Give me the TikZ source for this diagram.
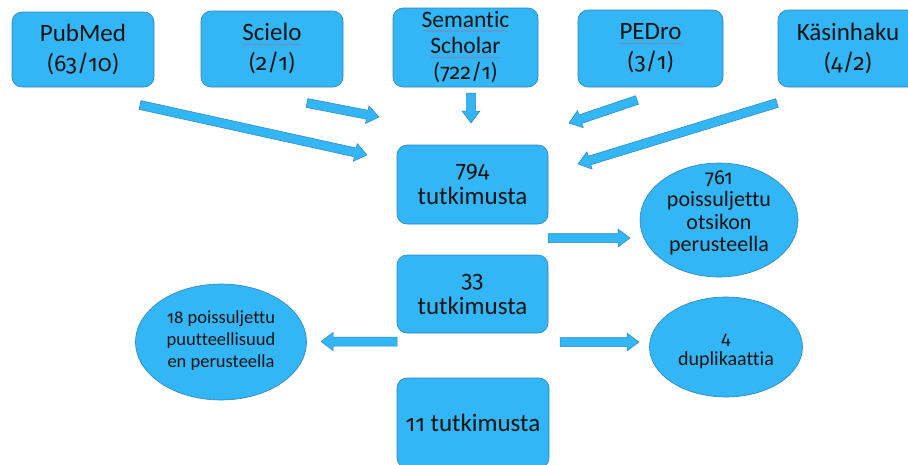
\documentclass[tikz,border=0pt]{standalone}
\usepackage{fontspec}
\setmainfont{Carlito}[Ligatures=NoCommon]
\newfontfamily\osf{Fira Sans}[Numbers=OldStyle,Scale=0.92]
\newcommand\dg[1]{{\osf #1}}
\usetikzlibrary{calc,shapes.geometric,decorations.pathmorphing}
\definecolor{boxblue}{RGB}{51,182,246}
\definecolor{edgeblue}{RGB}{44,132,190}
\definecolor{ink}{RGB}{20,20,20}
\definecolor{spellred}{RGB}{205,90,110}
\tikzset{
  box/.style={draw=edgeblue, fill=boxblue, rounded corners=10pt, align=center,
    inner sep=0pt, line width=0.6pt, text=ink},
  ell/.style={ellipse, draw=edgeblue, fill=boxblue, inner sep=0pt, line width=0.6pt},
  elltext/.style={align=center, text=ink, inner sep=0pt},
  arr/.style={draw=edgeblue, fill=boxblue, line width=0.5pt, line join=miter},
  big/.style={font={\fontsize{25pt}{30pt}\selectfont}},
  mid/.style={font={\fontsize{23.5pt}{26pt}\selectfont}},
  res/.style={font={\fontsize{25pt}{27pt}\selectfont}},
  small/.style={font={\fontsize{18.5pt}{22pt}\selectfont}},
  squiggle/.style={draw=spellred, line width=0.35pt, draw opacity=0.7,
    decorate, decoration={snake, segment length=2.4pt, amplitude=0.55pt}},
}
\newcommand\blockarr[3]{%
  \coordinate (#1t) at #2;
  \coordinate (#1p) at #3;
  \coordinate (#1b) at ($(#1p)!12pt!(#1t)$);
  \draw[arr] ($(#1t)!4.5pt!90:(#1p)$) -- ($(#1b)!4.5pt!90:(#1p)$) -- ($(#1b)!9pt!90:(#1p)$) -- (#1p) -- ($(#1b)!9pt!-90:(#1p)$) -- ($(#1b)!4.5pt!-90:(#1p)$) -- ($(#1t)!4.5pt!-90:(#1p)$) -- cycle;}
\begin{document}
\begin{tikzpicture}[x=1pt,y=-1pt]
\useasboundingbox (0,0) rectangle (908,464);
\clip (0,0) rectangle (908,464);
% sources
\node[box,big,minimum width=142pt,minimum height=75pt] (pub) at (83,49.5) {PubMed\\(\dg{63/10})};
\node[box,big,minimum width=142pt,minimum height=76pt] (sci) at (272,49) {Scielo\\(\dg{2/1})};
\node[box,mid,minimum width=145pt,minimum height=79pt] (sem) at (465.5,47.5) {Semantic\\Scholar\\(\dg{722/1})};
\node[box,big,minimum width=145pt,minimum height=77pt] (ped) at (650.5,48.5) {PEDro\\(\dg{3/1})};
\node[box,big,minimum width=140pt,minimum height=77pt] (kas) at (848,48.5) {Käsinhaku\\(\dg{4/2})};
% spell-check underlines
\coordinate (s1a) at (242,44.5); \coordinate (s1b) at (302,44.5);
\coordinate (s2a) at (423,31); \coordinate (s2b) at (508,31);
\coordinate (s3a) at (430,57.5); \coordinate (s3b) at (500,57.5);
\coordinate (s4a) at (619,43.5); \coordinate (s4b) at (683,43.5);
\draw[squiggle] (s1a) -- (s1b);
\draw[squiggle] (s2a) -- (s2b);
\draw[squiggle] (s3a) -- (s3b);
\draw[squiggle] (s4a) -- (s4b);
% main flow
\node[box,res,minimum width=151pt,minimum height=79pt] (n794) at (472.5,184.5) {\dg{794}\\tutkimusta};
\node[box,res,minimum width=151pt,minimum height=78pt] (n33) at (472.5,294) {\dg{33}\\tutkimusta};
\node[box,res,minimum width=152pt,minimum height=90pt] (n11) at (473,423) {\dg{11} tutkimusta};
% exclusions
\node[ell,minimum width=158pt,minimum height=114pt] (e761) at (719,220) {};
\node[elltext,font={\fontsize{22pt}{22.5pt}\selectfont}] at ($(e761)+(0,-7)$) {\dg{761}\\poissuljettu\\otsikon\\perusteella};
\node[ell,minimum width=171pt,minimum height=116pt] (e18) at (221,342) {};
\node[elltext,small] at ($(e18)+(0,-1)$) {\dg{18} poissuljettu\\puutteellisuud\\en perusteella};
\node[ell,minimum width=153pt,minimum height=100pt] (e4) at (726,347) {};
\node[elltext,font={\fontsize{20pt}{21pt}\selectfont}] at ($(e4)+(0,4)$) {\dg{4}\\duplikaattia};
% arrows
\blockarr{a1}{(140,105)}{(367,155)}
\blockarr{a2}{(307,103)}{(379,117)}
\blockarr{a3}{(471,93)}{(471,123)}
\blockarr{a4}{(637,100)}{(569,123)}
\blockarr{a5}{(777,103)}{(578,164)}
\blockarr{a6}{(548,238)}{(630,238)}
\blockarr{a7}{(397,341.5)}{(321,341.5)}
\blockarr{a8}{(560,342)}{(639,342)}
\end{tikzpicture}
\end{document}
